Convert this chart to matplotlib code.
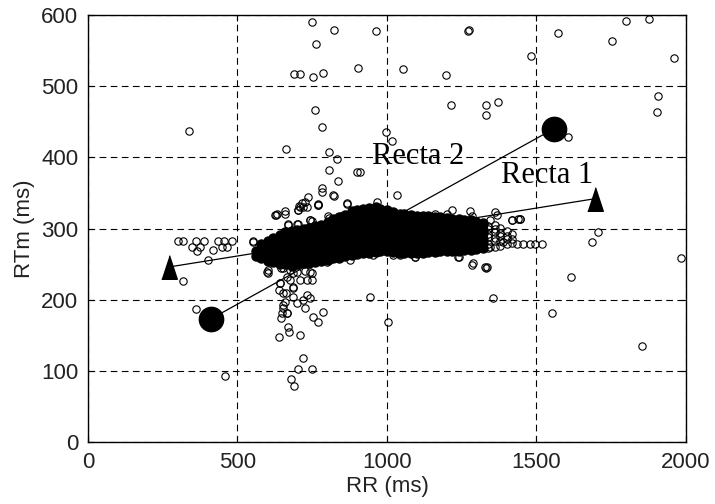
import matplotlib
matplotlib.use('Agg')
import matplotlib.pyplot as plt

# scattered beats (open circles), RR (ms) vs RTm (ms)
rr_sparse = [748, 822, 763, 689, 709, 751, 787, 904, 339, 758, 783, 664, 807, 834,
             807, 901, 837, 783, 783, 822, 737, 716, 706, 732, 768, 867, 630, 660,
             701, 742, 807, 698, 670, 845, 835, 302, 317, 361, 388, 436, 455, 483,
             553, 347, 375, 447, 464, 402, 317, 360, 458, 603, 364, 419,
             962, 1270, 1273, 1571, 1754, 1799, 1876, 1961, 1482, 1055, 1196, 1213,
             1331, 1331, 1370, 1905, 1902, 1606, 996, 1016, 910, 1032, 968, 1983,
             1615, 1551, 1852, 943, 1356, 1004, 1285, 1330, 1241, 1094, 1685, 1707,
             1434, 1456, 1478, 1495, 1517, 1333, 1417, 1445, 1161, 1216, 1278, 1361,
             1439]
rtm_sparse = [591, 579, 559, 517, 517, 513, 519, 526, 437, 466, 443, 412, 408, 398,
              383, 380, 367, 357, 352, 346, 345, 336, 332, 331, 334, 336, 319, 324,
              326, 312, 315, 307, 306, 317, 301, 283, 283, 283, 283, 283, 283, 283,
              283, 274, 274, 274, 274, 256, 227, 187, 93, 238, 269, 270,
              578, 577, 579, 575, 563, 592, 595, 540, 542, 524, 516, 474,
              474, 460, 478, 487, 464, 429, 436, 423, 380, 347, 338, 259,
              232, 181, 135, 204, 202, 169, 249, 245, 260, 260, 281, 295,
              279, 279, 279, 279, 279, 246, 312, 314, 320, 326, 325, 323,
              314]

# cluster hanging below the main band
rr_low = [640, 664, 687, 659, 685, 720, 731, 698, 726, 754, 770, 787, 651, 648,
          645, 667, 670, 671, 640, 709, 720, 703, 750, 679, 689, 603, 647, 687,
          726, 748, 732, 676, 642, 653, 687, 742, 653, 665]
rtm_low = [214, 209, 218, 197, 204, 200, 207, 195, 188, 176, 169, 183, 188, 182,
           174, 182, 161, 154, 148, 150, 118, 102, 103, 89, 79, 242, 244, 237,
           241, 237, 228, 228, 223, 209, 216, 202, 193, 181]

# beats on the border of the dense band
rr_edge = [625, 659, 703, 720, 770, 670, 703, 742, 782, 804, 832, 865, 553, 771,
           726, 709, 631, 820, 748,
           598, 653, 676, 698, 742, 748, 642, 665, 709, 798, 876, 954, 1021,
           1043, 1094, 1166, 1216, 1238, 1289, 1328, 1283, 1344, 1389,
           1055, 1116, 1144, 1200, 1283, 1344, 1417, 1445, 1367]
rtm_edge = [319, 321, 326, 331, 333, 305, 307, 312, 305, 317, 302, 335, 281, 333,
            338, 331, 321, 347, 310,
            239, 244, 242, 239, 239, 228, 223, 232, 228, 253, 256, 263, 263,
            263, 260, 267, 270, 260, 251, 246, 272, 274, 281,
            319, 314, 317, 321, 317, 312, 312, 314, 319]

# dense band: RR value and the RTm values piled at it
band_solid = [
    (562, [262, 268]),
    (579, [258, 265, 271, 278]),
    (601, [255, 262, 268, 276, 283]),
    (619, [253, 258, 266, 272, 280, 287]),
    (641, [250, 257, 263, 271, 277, 285, 291]),
    (659, [250, 255, 263, 269, 278, 284, 290, 295]),
    (681, [248, 256, 262, 270, 276, 283, 289, 296]),
    (698, [250, 255, 264, 270, 278, 283, 292, 298]),
    (722, [251, 258, 263, 272, 277, 286, 292, 300]),
    (739, [252, 257, 266, 271, 280, 286, 294, 301]),
    (761, [253, 260, 265, 274, 279, 288, 293, 303]),
    (779, [254, 260, 268, 274, 283, 288, 297, 305]),
    (802, [256, 263, 268, 277, 282, 291, 296, 304, 309]),
    (818, [258, 264, 272, 277, 286, 291, 300, 305, 313]),
    (841, [259, 267, 272, 281, 286, 295, 300, 309, 316]),
    (859, [261, 267, 276, 281, 290, 295, 304, 309, 319]),
    (882, [263, 271, 276, 285, 290, 299, 304, 313, 318, 324]),
    (899, [264, 270, 279, 284, 293, 298, 307, 312, 321, 326]),
    (921, [265, 273, 278, 287, 292, 301, 306, 315, 320, 328]),
    (939, [266, 272, 281, 286, 295, 300, 309, 314, 323, 329]),
    (962, [267, 275, 280, 289, 294, 303, 308, 317, 322, 330]),
    (978, [268, 274, 283, 288, 297, 302, 311, 316, 325, 328]),
    (1001, [268, 276, 281, 290, 295, 304, 309, 318, 322, 326]),
    (1019, [267, 273, 282, 287, 296, 301, 310, 315, 323]),
    (1042, [266, 274, 279, 288, 293, 302, 307, 316, 321]),
    (1058, [266, 272, 281, 286, 295, 300, 309, 313, 320]),
    (1081, [265, 273, 278, 287, 292, 301, 306, 314, 319]),
    (1099, [266, 272, 281, 286, 295, 300, 308, 312, 318]),
    (1122, [266, 274, 279, 288, 293, 301, 305, 313, 317]),
    (1138, [267, 273, 282, 287, 296, 300, 308, 311, 317]),
    (1161, [267, 275, 280, 289, 294, 302, 306, 314, 316]),
    (1179, [268, 274, 283, 288, 297, 301, 309, 312, 316]),
    (1202, [268, 276, 281, 290, 295, 303, 307, 314, 315]),
    (1218, [269, 275, 284, 289, 298, 302, 310, 313]),
    (1241, [269, 277, 282, 291, 296, 304, 308, 314]),
    (1259, [270, 276, 285, 290, 298, 302, 310, 312]),
    (1282, [270, 278, 283, 292, 296, 304, 307, 312]),
    (1298, [271, 277, 286, 291, 299, 303, 309]),
    (1321, [272, 280, 285, 294, 298, 306, 308]),
]
band_tail = [
    (1339, [273, 279, 288, 292, 300, 304]),
    (1362, [274, 282, 287, 295, 299, 305]),
    (1378, [276, 282, 290, 294, 301]),
    (1401, [278, 285, 289, 296]),
    (1419, [280, 285, 292]),
]

# the two fitted lines and their end markers
recta1_rr = [271, 1696]
recta1_rtm = [246, 342]
recta2_rr = [411, 1557]
recta2_rtm = [173, 440]


def flatten(columns):
    xs, ys = [], []
    for x, vals in columns:
        for v in vals:
            xs.append(x)
            ys.append(v)
    return xs, ys


plt.rcParams['font.family'] = ['Liberation Sans', 'DejaVu Sans']

fig = plt.figure(figsize=(7.15, 5.04), dpi=100)
ax = fig.add_axes([0.123, 0.123, 0.8364, 0.847])

circ = dict(linestyle='none', marker='o', markersize=5.3, markerfacecolor='none',
            markeredgecolor='black', markeredgewidth=0.8)

bx, by = flatten(band_solid)
ax.plot(bx, by, linestyle='none', marker='o', markersize=6.5, color='black')
tx, ty = flatten(band_tail)
ax.plot(tx, ty, **circ)
ax.plot(rr_edge, rtm_edge, **circ)
ax.plot(rr_low, rtm_low, **circ)
ax.plot(rr_sparse, rtm_sparse, **circ)

tri = [(-0.66, -1.0), (0.66, -1.0), (0.0, 1.0)]
ax.plot(recta1_rr, recta1_rtm, color='black', lw=0.9)
ax.plot(recta1_rr, recta1_rtm, linestyle='none', marker=tri, markersize=17,
        color='black')
ax.plot(recta2_rr, recta2_rtm, color='black', lw=0.9)
ax.plot(recta2_rr, recta2_rtm, linestyle='none', marker='o', markersize=17.5,
        color='black')

ax.text(949, 391, 'Recta 2', family='Liberation Serif', fontsize=22)
ax.text(1383, 364, 'Recta 1', family='Liberation Serif', fontsize=22)

ax.set_xlim(0, 2000)
ax.set_ylim(0, 600)
ax.set_xticks([0, 500, 1000, 1500, 2000])
ax.set_yticks([0, 100, 200, 300, 400, 500, 600])
ax.grid(True, color='black', linestyle=(0, (6, 4)), linewidth=0.8)
ax.tick_params(direction='in', top=True, right=True, length=4, width=0.8,
               labelsize=16, labelcolor='#222222', pad=7)
for s in ax.spines.values():
    s.set_linewidth(1.0)

ax.set_xlabel('RR (ms)', fontsize=16, color='#222222', labelpad=2)
ax.set_ylabel('RTm (ms)', fontsize=16, color='#222222', labelpad=4)

fig.savefig('out.png', dpi=100)
